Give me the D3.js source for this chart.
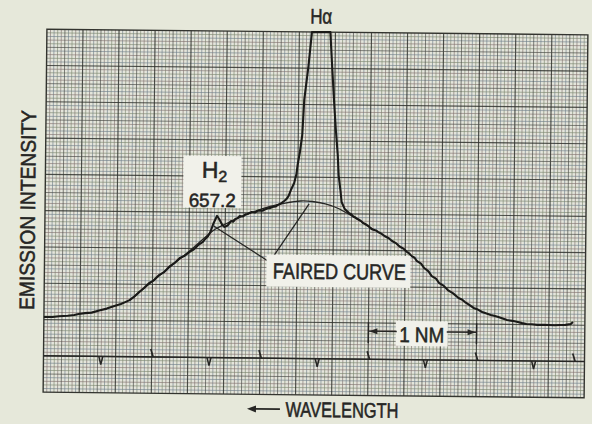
<!DOCTYPE html>
<html>
<head>
<meta charset="utf-8">
<script src="https://cdn.jsdelivr.net/npm/d3@7"></script>
<style>
  html, body { margin: 0; padding: 0; background: #e6e8da; }
  svg { display: block; }
  text { font-family: "Liberation Sans Narrow", "Liberation Sans", Arial, sans-serif;
         fill: #262624; stroke: #262624; stroke-width: 0.55; }
</style>
</head>
<body>
<svg id="chart" width="592" height="424"></svg>
<script>
// Recorder trace: wavelength (nm) against pen deflection (chart divisions, 20 = full scale)
const traceWavelength = [
  658.80, 658.72, 658.66, 658.58, 658.52, 658.48, 658.42, 658.36, 658.29, 658.22,
  658.15, 658.09, 658.05, 658.01, 657.97, 657.92, 657.88, 657.83, 657.79, 657.74,
  657.69, 657.64, 657.60, 657.55, 657.51, 657.46, 657.42, 657.37, 657.34, 657.31,
  657.29, 657.27, 657.24, 657.21, 657.19, 657.16, 657.14, 657.11, 657.09, 657.08,
  657.06, 657.04, 657.02, 657.00, 656.97, 656.95, 656.93, 656.91, 656.89, 656.86,
  656.84, 656.82, 656.79, 656.77, 656.74, 656.72, 656.70, 656.67, 656.65, 656.63,
  656.61, 656.59, 656.57, 656.55, 656.53, 656.50, 656.48, 656.47, 656.45, 656.43,
  656.415, 656.38, 656.35, 656.18, 656.16, 656.14, 656.12, 656.10, 656.09, 656.07,
  656.06, 656.03, 655.99, 655.97, 655.95, 655.93, 655.91, 655.88, 655.86, 655.84,
  655.81, 655.79, 655.77, 655.74, 655.72, 655.69, 655.66, 655.62, 655.59, 655.55,
  655.52, 655.48, 655.45, 655.43, 655.41, 655.38, 655.36, 655.32, 655.29, 655.25,
  655.22, 655.18, 655.15, 655.11, 655.07, 655.02, 654.97, 654.94, 654.91, 654.87,
  654.83, 654.79, 654.75, 654.71, 654.67, 654.64, 654.60, 654.56, 654.52, 654.47,
  654.42, 654.38, 654.34, 654.29, 654.24, 654.18, 654.13, 654.08, 654.03, 653.98,
  653.93, 653.91
];
const traceIntensity = [
  4.14, 4.15, 4.19, 4.22, 4.27, 4.33, 4.38, 4.41, 4.53, 4.64,
  4.79, 4.90, 5.01, 5.12, 5.30, 5.58, 5.78, 6.08, 6.21, 6.52,
  6.70, 7.02, 7.18, 7.47, 7.58, 7.81, 7.96, 8.25, 8.36, 8.58,
  8.70, 8.92, 9.42, 9.81, 9.64, 9.31, 9.21, 9.29, 9.45, 9.54,
  9.50, 9.65, 9.70, 9.82, 9.79, 9.91, 9.93, 9.99, 10.05, 10.02,
  10.10, 10.13, 10.12, 10.19, 10.26, 10.27, 10.33, 10.36, 10.45, 10.50,
  10.58, 10.67, 10.78, 10.95, 11.28, 11.67, 12.17, 12.66, 13.38, 14.32,
  16.25, 18.07, 20.00, 20.00, 18.08, 16.26, 14.61, 13.23, 12.13, 11.20,
  10.65, 10.26, 10.04, 9.98, 9.86, 9.80, 9.72, 9.62, 9.50, 9.45,
  9.34, 9.22, 9.15, 9.10, 9.02, 8.93, 8.80, 8.68, 8.53, 8.40,
  8.23, 8.10, 7.93, 7.86, 7.72, 7.62, 7.45, 7.30, 7.06, 6.88,
  6.62, 6.48, 6.24, 6.10, 5.86, 5.68, 5.43, 5.35, 5.21, 5.06,
  4.89, 4.80, 4.67, 4.59, 4.51, 4.47, 4.40, 4.32, 4.24, 4.20,
  4.14, 4.08, 4.03, 4.02, 3.99, 4.00, 3.99, 3.98, 4.00, 4.01,
  4.06, 4.17
];

// Smooth continuum drawn beneath the emission lines
const fairedWavelength = [658.01, 657.83, 657.64, 657.46, 657.32, 657.23, 657.14, 657.00, 656.86,
  656.72, 656.58, 656.44, 656.33, 656.21, 656.09, 655.98, 655.87, 655.75];
const fairedIntensity = [5.12, 6.02, 6.97, 7.86, 8.61, 9.06, 9.34, 9.74, 10.08,
  10.36, 10.56, 10.68, 10.66, 10.53, 10.29, 9.94, 9.56, 9.10];

// Event-marker pen: upward and downward blips
const markerUp = [657.80, 656.80, 655.80, 654.80, 653.90];
const markerDown = [658.27, 657.27, 656.27, 655.27, 654.27];

// Line identifications
const lineNames = ["Hα", "H2"];
const lineWavelengths = [656.28, 657.2];
const h2Label = "657.2";

// Faired-curve callout: label anchor and the two points it indicates
const calloutWavelength = [657.24, 656.36];
const calloutIntensity = [9.25, 10.53];
const calloutAnchor = [656.72, 7.30];

// Scale bar (1 nm)
const scaleBarEnds = [655.80, 654.80];
const scaleBarLevel = 3.55;

const plotLeft = 45, plotRight = 586, plotTop = 32, plotBottom = 395;

const svg = d3.select("#chart");
const g = svg.append("g").attr("transform", "rotate(0.6,315,214)");

const x = d3.scaleLinear().domain([658.8, 653.8]).range([plotLeft, plotRight]);
const y = d3.scaleLinear().domain([0, 20]).range([plotBottom, plotTop]);
const xDiv = d3.scaleLinear().domain([0, 30]).range([plotLeft, plotRight]);

// chart paper
g.append("rect").attr("x", plotLeft).attr("y", plotTop)
  .attr("width", plotRight - plotLeft).attr("height", plotBottom - plotTop)
  .attr("fill", "#e4e5db");

const fineX = d3.range(0, 30.001, 0.2).filter(d => Math.abs(d - Math.round(d)) > 1e-6);
const fineY = d3.range(0, 20.001, 0.2).filter(d => Math.abs(d - Math.round(d)) > 1e-6);
const fineColors = ["#857672", "#72828c", "#7e8a72"];

g.append("g").selectAll("line").data(fineX).join("line")
  .attr("x1", d => xDiv(d)).attr("x2", d => xDiv(d))
  .attr("y1", plotTop).attr("y2", plotBottom)
  .attr("stroke", (d, i) => fineColors[i % 3]).attr("stroke-width", 0.8).attr("stroke-opacity", 0.82);
g.append("g").selectAll("line").data(fineY).join("line")
  .attr("y1", d => y(d)).attr("y2", d => y(d))
  .attr("x1", plotLeft).attr("x2", plotRight)
  .attr("stroke", (d, i) => fineColors[(i + 1) % 3]).attr("stroke-width", 0.8).attr("stroke-opacity", 0.82);

g.append("g").selectAll("line").data(d3.range(1, 30)).join("line")
  .attr("x1", d => xDiv(d)).attr("x2", d => xDiv(d))
  .attr("y1", plotTop).attr("y2", plotBottom)
  .attr("stroke", d => d % 2 === 0 ? "#30322e" : "#4a4c48")
  .attr("stroke-width", d => d % 2 === 0 ? 1.15 : 0.95)
  .attr("stroke-opacity", d => d % 2 === 0 ? 0.85 : 0.72);
g.append("g").selectAll("line").data(d3.range(1, 20)).join("line")
  .attr("y1", d => y(d)).attr("y2", d => y(d))
  .attr("x1", plotLeft).attr("x2", plotRight)
  .attr("stroke", d => d % 2 === 0 ? "#30322e" : "#4a4c48")
  .attr("stroke-width", d => d % 2 === 0 ? 1.15 : 0.95)
  .attr("stroke-opacity", d => d % 2 === 0 ? 0.85 : 0.72);

g.append("rect").attr("x", plotLeft).attr("y", plotTop)
  .attr("width", plotRight - plotLeft).attr("height", plotBottom - plotTop)
  .attr("fill", "none").attr("stroke", "#33342f").attr("stroke-width", 1.4);

// event-marker trace
const base = y(2);
g.append("line").attr("x1", plotLeft).attr("x2", plotRight).attr("y1", base).attr("y2", base)
  .attr("stroke", "#262624").attr("stroke-width", 1.5);
g.append("g").selectAll("path").data(markerUp).join("path")
  .attr("d", d => `M${x(d) - 1},${base - 8}L${x(d) + 1.5},${base}`)
  .attr("stroke", "#262624").attr("stroke-width", 1.7).attr("fill", "none");
g.append("g").selectAll("path").data(markerDown).join("path")
  .attr("d", d => `M${x(d) - 2},${base}L${x(d)},${base + 8}L${x(d) + 2},${base}`)
  .attr("stroke", "#262624").attr("stroke-width", 1.5).attr("fill", "none");

// faired continuum
const faired = d3.zip(fairedWavelength, fairedIntensity);
g.append("path").datum(faired)
  .attr("d", d3.line().x(d => x(d[0])).y(d => y(d[1])).curve(d3.curveCatmullRom))
  .attr("fill", "none").attr("stroke", "#262624").attr("stroke-width", 1.3);

// recorder trace
const trace = d3.zip(traceWavelength, traceIntensity);
g.append("path").datum(trace)
  .attr("d", d3.line().x(d => x(d[0])).y(d => y(d[1])))
  .attr("fill", "none").attr("stroke", "#1a1a18").attr("stroke-width", 2.1)
  .attr("stroke-linejoin", "round");

// callout lines to the faired curve
const ax = x(calloutAnchor[0]), ay = y(calloutAnchor[1]);
g.append("g").selectAll("line").data(d3.zip(calloutWavelength, calloutIntensity)).join("line")
  .attr("x1", ax).attr("y1", ay)
  .attr("x2", d => x(d[0])).attr("y2", d => y(d[1]))
  .attr("stroke", "#262624").attr("stroke-width", 1.3);

// label panels
g.append("rect").attr("x", 183).attr("y", 157).attr("width", 58).attr("height", 52).attr("fill", "#f1f1ea");
g.append("rect").attr("x", 267).attr("y", 255).attr("width", 144).attr("height", 32).attr("fill", "#f1f1ea");
g.append("rect").attr("x", 397).attr("y", 320).attr("width", 52).attr("height", 25).attr("fill", "#f1f1ea");

// H2 label
const h2x = x(lineWavelengths[1]) - 4;
const h2 = g.append("text").attr("x", h2x).attr("y", 179).attr("text-anchor", "middle").attr("font-size", 23);
h2.append("tspan").text(lineNames[1].charAt(0));
h2.append("tspan").attr("font-size", 16).attr("dy", 4).text(lineNames[1].charAt(1));
g.append("text").attr("x", h2x - 2).attr("y", 208).attr("text-anchor", "middle")
  .attr("font-size", 19).attr("textLength", 47).attr("lengthAdjust", "spacingAndGlyphs").text(h2Label);

// H-alpha label
g.append("text").attr("x", x(lineWavelengths[0]) + 1.5).attr("y", 23.5).attr("text-anchor", "middle")
  .attr("font-size", 21).attr("textLength", 22).attr("lengthAdjust", "spacingAndGlyphs").text(lineNames[0]);

// faired curve label
g.append("text").attr("x", 340).attr("y", 279).attr("text-anchor", "middle")
  .attr("font-size", 22).attr("textLength", 133).attr("lengthAdjust", "spacingAndGlyphs").text("FAIRED CURVE");

// 1 nm scale bar
const sy = y(scaleBarLevel);
const sx0 = x(scaleBarEnds[0]), sx1 = x(scaleBarEnds[1]);
g.append("line").attr("x1", sx0).attr("x2", 398).attr("y1", sy).attr("y2", sy).attr("stroke", "#262624").attr("stroke-width", 1.4);
g.append("line").attr("x1", 448).attr("x2", sx1).attr("y1", sy).attr("y2", sy).attr("stroke", "#262624").attr("stroke-width", 1.4);
g.append("path").attr("d", `M${sx0 + 1},${sy}L${sx0 + 9},${sy - 3}L${sx0 + 9},${sy + 3}Z`).attr("fill", "#262624");
g.append("path").attr("d", `M${sx1 - 1},${sy}L${sx1 - 9},${sy - 3}L${sx1 - 9},${sy + 3}Z`).attr("fill", "#262624");
[sx0, sx1].forEach(v => g.append("line").attr("x1", v).attr("x2", v).attr("y1", sy - 9).attr("y2", sy + 12)
  .attr("stroke", "#262624").attr("stroke-width", 1.5));
g.append("text").attr("x", 423).attr("y", 341).attr("text-anchor", "middle")
  .attr("font-size", 21).attr("textLength", 45).attr("lengthAdjust", "spacingAndGlyphs").text("1 NM");

// axis titles
g.append("text").attr("transform", "translate(35,213) rotate(-90)").attr("text-anchor", "middle")
  .attr("font-size", 21).attr("textLength", 200).attr("lengthAdjust", "spacingAndGlyphs").text("EMISSION INTENSITY");
g.append("line").attr("x1", 256).attr("x2", 282).attr("y1", 409.5).attr("y2", 409.5).attr("stroke", "#262624").attr("stroke-width", 1.6);
g.append("path").attr("d", "M249,409.5L258,406L258,413Z").attr("fill", "#262624");
g.append("text").attr("x", 344).attr("y", 417).attr("text-anchor", "middle")
  .attr("font-size", 21).attr("textLength", 113).attr("lengthAdjust", "spacingAndGlyphs").text("WAVELENGTH");
</script>
</body>
</html>
